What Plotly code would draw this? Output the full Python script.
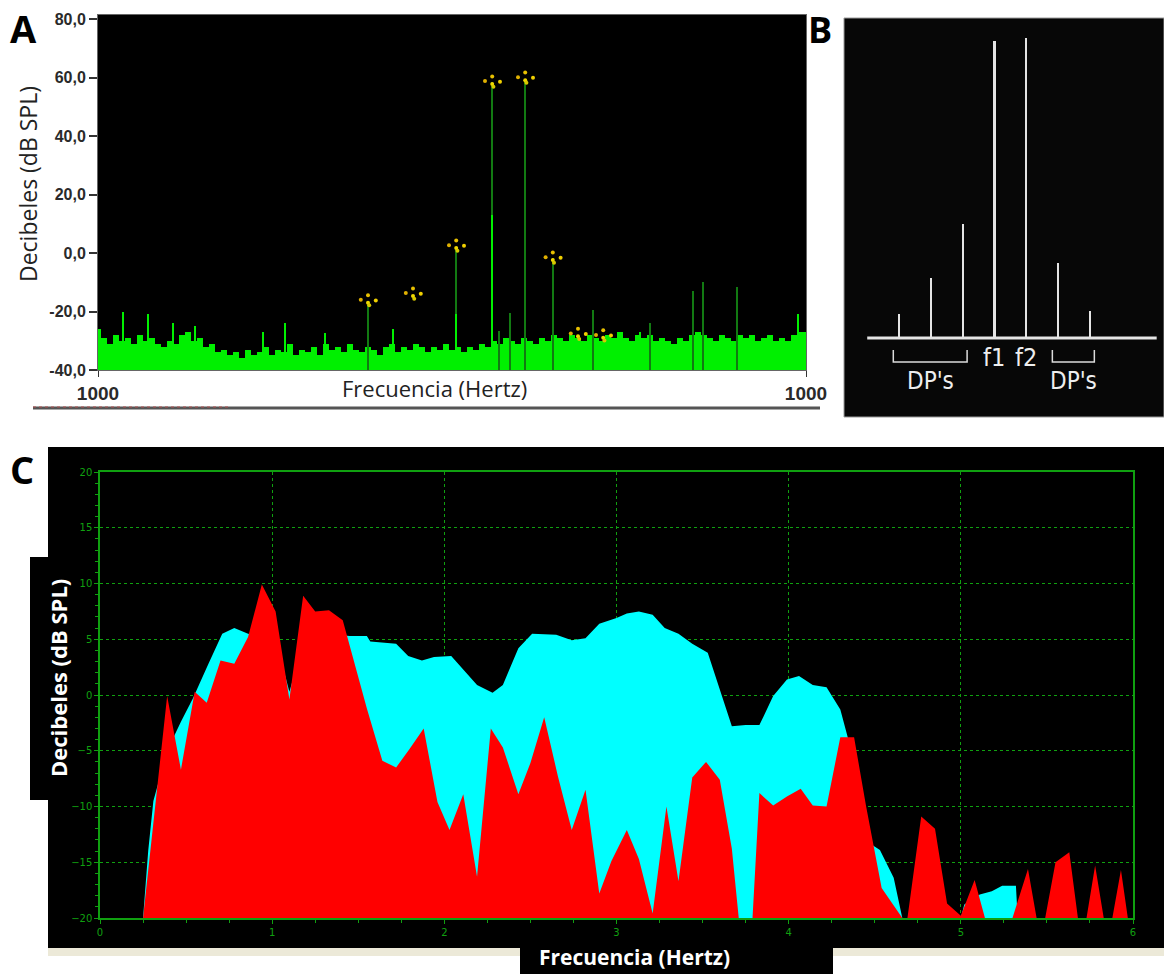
import plotly.graph_objects as go

FIG_W, FIG_H = 1164, 974


def px(x):
    return x / FIG_W


def py(y):
    return 1 - y / FIG_H


# ---------------- Panel A: measured spectrum (bins across the analysis window) ----------------
noise_db = [
    -26, -29, -31, -28, -30, -29, -31, -28, -30, -29,
    -31, -32, -30, -31, -28, -27, -30, -29, -32, -31,
    -34, -33, -35, -34, -36, -33, -35, -34, -32, -35,
    -33, -34, -31, -35, -33, -34, -32, -35, -31, -33,
    -32, -34, -31, -33, -34, -32, -33, -35, -32, -31,
    -34, -32, -33, -31, -32, -34, -32, -33, -31, -33,
    -32, -34, -32, -33, -31, -32, -30, -31, -29, -30,
    -31, -29, -30, -31, -29, -30, -28, -29, -30, -28,
    -29, -30, -28, -29, -30, -28, -29, -27, -29, -30,
    -28, -29, -28, -30, -29, -30, -31, -29, -30, -28,
    -27, -28, -29, -30, -28, -29, -30, -28, -29, -28,
    -30, -29, -28, -30, -29, -30, -28, -27, -27,
]
bright_spike_bins = [4.2, 8.3, 12.5, 16.2, 27.5, 31.2, 37.8, 49.2, 59.7, 65.7, 90.3, 116.7]
bright_spike_db = [-20, -21, -24, -25, -27, -24, -27.5, -26, -21, 13, -27, -21]
dark_spike_bins = [45.0, 59.7, 65.7, 71.2, 75.8, 66.8, 68.7, 82.5, 92.0, 99.2, 100.8, 106.5]
dark_spike_db = [-17, 1.7, 58.5, 59.5, -1.7, -26.5, -20.5, -19.5, -24, -13, -10, -11.6]
dot_bins = [45.0, 52.5, 59.7, 65.7, 71.2, 75.8, 80.0, 84.2]
dot_db = [-17, -14.7, 1.7, 57.8, 59.1, -2.4, -28.5, -29]
a_tick_db = [-40, -20, 0, 20, 40, 60, 80]
a_tick_text = ["-40,0", "-20,0", "0,0", "20,0", "40,0", "60,0", "80,0"]
a_freq_ticks = [0, len(noise_db) - 1]
a_freq_text = ["1000", "1000"]

# ---------------- Panel B: schematic of primaries and distortion products ----------------
b_positions = [1, 2, 3, 4, 5, 6, 7]
b_levels = [8, 20, 38, 99, 100, 25, 9]
b_primary_names = ["f1", "f2"]
b_primary_positions = [4, 5]
b_dp_groups = [(1, 3), (6, 7)]
b_dp_label = "DP's"

# ---------------- Panel C: DP-gram ----------------
cyan_hz = [0.25, 0.28, 0.31, 0.39, 0.47, 0.54, 0.63, 0.71, 0.78, 0.86,
           0.94, 1.02, 1.10, 1.18, 1.25, 1.33, 1.45, 1.55, 1.57, 1.72,
           1.79, 1.87, 1.94, 2.04, 2.19, 2.28, 2.34, 2.43, 2.51, 2.65,
           2.74, 2.82, 2.90, 3.00, 3.06, 3.13, 3.21, 3.28, 3.36, 3.44,
           3.53, 3.67, 3.75, 3.83, 3.91, 3.99, 4.06, 4.14, 4.22, 4.30,
           4.34, 4.38, 4.45, 4.49, 4.53, 4.61, 4.66, 5.00, 5.02, 5.11,
           5.18, 5.24, 5.32, 5.33]
cyan_db = [-20, -14, -9.5, -5.0, -2.4, -0.3, 2.8, 5.5, 6.0, 5.5,
           5.2, 5.0, 0.3, 4.5, 5.5, 5.5, 5.3, 5.3, 4.8, 4.6,
           3.5, 3.1, 3.4, 3.5, 0.9, 0.2, 0.9, 4.2, 5.5, 5.4,
           4.9, 5.1, 6.4, 6.9, 7.3, 7.5, 7.2, 6.0, 5.5, 4.6,
           3.8, -2.8, -2.7, -2.7, -0.1, 1.4, 1.7, 0.9, 0.7, -1.3,
           -3.6, -6.0, -12.0, -13.5, -13.9, -16.4, -20, -20, -18.8, -17.9,
           -17.6, -17.1, -17.1, -20]
red_hz = [0.25, 0.39, 0.47, 0.55, 0.62, 0.70, 0.78, 0.86, 0.94, 1.02,
          1.10, 1.18, 1.25, 1.33, 1.41, 1.55, 1.64, 1.72, 1.80, 1.88,
          1.96, 2.03, 2.11, 2.19, 2.27, 2.34, 2.43, 2.50, 2.58, 2.66,
          2.74, 2.82, 2.90, 2.97, 3.06, 3.13, 3.21, 3.29, 3.36, 3.44,
          3.52, 3.60, 3.67, 3.71, 3.79, 3.83, 3.91, 3.99, 4.07, 4.14,
          4.22, 4.30, 4.38, 4.45, 4.54, 4.66, 4.69, 4.77, 4.85, 4.92,
          5.00, 5.08, 5.14, 5.30, 5.39, 5.44, 5.49, 5.55, 5.63, 5.68,
          5.73, 5.78, 5.83, 5.88, 5.93, 5.97]
red_db = [-20, -0.1, -6.7, 0.3, -0.7, 3.1, 2.8, 5.2, 9.9, 7.5,
          -0.4, 8.9, 7.5, 7.6, 6.7, -1.2, -5.9, -6.5, -4.8, -3.0,
          -9.6, -12.1, -8.9, -16.3, -3.0, -4.7, -8.9, -6.1, -2.0, -7.3,
          -12.1, -8.5, -17.8, -14.9, -12.1, -14.7, -19.6, -10.0, -16.7, -7.4,
          -6.0, -7.6, -13.8, -20, -20, -8.8, -9.9, -9.1, -8.4, -9.9,
          -10.0, -3.8, -3.8, -10.0, -17.3, -20, -20, -10.9, -12.0, -18.7,
          -19.8, -16.6, -20, -20, -15.6, -20, -20, -15.0, -14.1, -20,
          -20, -15.3, -20, -20, -15.7, -20]

A_FLOOR = -40
GREEN = "#00f000"
DARK_GREEN = "#127a12"
C_GREEN = "#10a010"
B_FONT = "Liberation Sans Narrow, DejaVu Sans Condensed, Liberation Sans"

fig = go.Figure()

# ---- Panel A traces ----
fig.add_trace(go.Bar(
    x=list(range(len(noise_db))), y=[d - A_FLOOR for d in noise_db], base=A_FLOOR,
    width=1.0, marker=dict(color=GREEN, line=dict(width=0)),
    xaxis="x", yaxis="y", showlegend=False, hoverinfo="skip"))
fig.add_trace(go.Bar(
    x=dark_spike_bins, y=[d - A_FLOOR for d in dark_spike_db], base=A_FLOOR,
    width=0.35, marker=dict(color=DARK_GREEN, line=dict(width=0)),
    xaxis="x", yaxis="y", showlegend=False))
fig.add_trace(go.Bar(
    x=bright_spike_bins, y=[d - A_FLOOR for d in bright_spike_db], base=A_FLOOR,
    width=0.4, marker=dict(color=GREEN, line=dict(width=0)),
    xaxis="x", yaxis="y", showlegend=False))

# little yellow dot clusters marking detected components
cluster = [(0.0, 0.0, "#f0d800"), (0.0, 2.6, "#e8c000"), (-1.2, 1.0, "#e0b000"),
           (1.3, 0.8, "#f0d000"), (0.2, -0.9, "#d8c800")]
for dx, dy, col in cluster:
    fig.add_trace(go.Scatter(
        x=[b + dx for b in dot_bins], y=[d + dy for d in dot_db], mode="markers",
        marker=dict(size=4, color=col), xaxis="x", yaxis="y", showlegend=False))

# ---- Panel B traces ----
fig.add_trace(go.Bar(
    x=b_positions, y=b_levels, width=0.07,
    marker=dict(color="#e4e4e4", line=dict(width=0)),
    xaxis="x2", yaxis="y2", showlegend=False))
for lo, hi in b_dp_groups:
    fig.add_trace(go.Scatter(
        x=[lo - 0.18, lo - 0.18, hi + 0.14, hi + 0.14], y=[-4, -8, -8, -4],
        mode="lines", line=dict(color="#dcdcdc", width=1.5),
        xaxis="x2", yaxis="y2", showlegend=False))

# ---- Panel C traces ----
fig.add_trace(go.Scatter(
    x=cyan_hz, y=cyan_db, mode="lines", fill="toself", fillcolor="#00ffff",
    line=dict(color="#00ffff", width=0), xaxis="x3", yaxis="y3", showlegend=False))
fig.add_trace(go.Scatter(
    x=red_hz, y=red_db, mode="lines", fill="toself", fillcolor="#ff0000",
    line=dict(color="#ff0000", width=0), xaxis="x3", yaxis="y3", showlegend=False))

# ---- Backgrounds and decorations ----
shapes = [
    dict(type="rect", xref="paper", yref="paper", x0=px(98), x1=px(806), y0=py(370), y1=py(15),
         fillcolor="black", line=dict(width=0), layer="below"),
    dict(type="rect", xref="paper", yref="paper", x0=px(844), x1=px(1164), y0=py(417), y1=py(18),
         fillcolor="#070707", line=dict(color="#9a9a9a", width=1), layer="below"),
    dict(type="rect", xref="paper", yref="paper", x0=px(48), x1=px(1164), y0=py(948), y1=py(447),
         fillcolor="black", line=dict(width=0), layer="below"),
    dict(type="rect", xref="paper", yref="paper", x0=px(30), x1=px(62), y0=py(800), y1=py(557),
         fillcolor="black", line=dict(width=0), layer="below"),
    dict(type="rect", xref="paper", yref="paper", x0=px(520), x1=px(833), y0=py(974), y1=py(940),
         fillcolor="black", line=dict(width=0), layer="below"),
    dict(type="rect", xref="paper", yref="paper", x0=px(48), x1=px(520), y0=py(956), y1=py(948),
         fillcolor="#ece9d8", line=dict(width=0), layer="below"),
    dict(type="rect", xref="paper", yref="paper", x0=px(833), x1=px(1164), y0=py(956), y1=py(948),
         fillcolor="#ece9d8", line=dict(width=0), layer="below"),
    dict(type="line", xref="paper", yref="paper", x0=px(33), x1=px(820), y0=py(408), y1=py(408),
         line=dict(color="#555555", width=3)),
    dict(type="line", xref="paper", yref="paper", x0=px(33), x1=px(230), y0=py(407), y1=py(407),
         line=dict(color="#b05050", width=1, dash="dot")),
    dict(type="line", xref="x2", yref="y2", x0=0, x1=9.1, y0=0, y1=0,
         line=dict(color="#e4e4e4", width=3)),
]


def note(text, x, y, size, color, bold=False, angle=0, family="Open Sans", xref="paper", yref="paper"):
    return dict(text=text, x=x, y=y, xref=xref, yref=yref, showarrow=False,
                xanchor="center", yanchor="middle", textangle=angle,
                font=dict(family=family, size=size, color=color,
                          weight="bold" if bold else "normal"))


annotations = [
    note("A", px(23), py(28), 38, "black", bold=True),
    note("B", px(820), py(30), 36, "black", bold=True),
    note("C", px(22), py(469), 38, "black", bold=True),
    note("Decibeles (dB SPL)", px(28), py(184), 23, "#222", angle=-90),
    note("Frecuencia (Hertz)", px(434), py(388), 22, "#222"),
    note("Decibeles (dB SPL)", px(58), py(678), 22, "white", bold=True, angle=-90),
    note("Frecuencia (Hertz)", px(634), py(957), 21, "white", bold=True),
]
for name, pos in zip(b_primary_names, b_primary_positions):
    annotations.append(note(name, pos, -6.5, 25, "#eeeeee", family=B_FONT,
                            xref="x2", yref="y2"))
for lo, hi in b_dp_groups:
    annotations.append(note(b_dp_label, (lo + hi) / 2, -14.3, 24, "#eeeeee",
                            family=B_FONT, xref="x2", yref="y2"))

a_font = dict(family="Liberation Sans", size=16, color="#2a2a2a", weight="bold")
a_xfont = dict(family="Liberation Sans", size=19, color="#2a2a2a", weight="bold")
c_font = dict(family="DejaVu Sans", size=10, color=C_GREEN)

fig.update_layout(
    width=FIG_W, height=FIG_H,
    margin=dict(l=0, r=0, t=0, b=0, pad=0, autoexpand=False),
    paper_bgcolor="white", plot_bgcolor="rgba(0,0,0,0)",
    barmode="overlay", bargap=0,
    shapes=shapes, annotations=annotations,
    xaxis=dict(domain=[px(98), px(806)], anchor="y", range=[0, len(noise_db) - 1],
               tickvals=a_freq_ticks, ticktext=a_freq_text, ticks="outside", ticklen=6,
               tickcolor="#333", tickfont=a_xfont, showgrid=False, zeroline=False,
               showline=True, linecolor="#666", linewidth=1, mirror=True, automargin=False),
    yaxis=dict(domain=[py(370), py(15)], anchor="x", range=[-40, 81.4],
               tickvals=a_tick_db, ticktext=a_tick_text, ticks="outside", ticklen=8,
               tickwidth=2, tickcolor="#333", tickfont=a_font, showgrid=False,
               zeroline=False, showline=True, linecolor="#666", linewidth=1, mirror=True,
               automargin=False),
    xaxis2=dict(domain=[px(844), 1], anchor="y2", range=[-0.73, 9.33], visible=False,
                automargin=False),
    yaxis2=dict(domain=[py(417), py(18)], anchor="x2", range=[-26.3, 106.7], visible=False,
                automargin=False),
    xaxis3=dict(domain=[px(100), px(1133)], anchor="y3", range=[0, 6], dtick=1, tick0=0,
                ticks="outside", ticklen=4, tickcolor=C_GREEN, tickfont=c_font,
                showgrid=True, gridcolor=C_GREEN, griddash="dot", gridwidth=1,
                zeroline=False, showline=True, linecolor=C_GREEN, linewidth=1.5, mirror=True,
                automargin=False,
                minor=dict(dtick=0.25, ticks="outside", ticklen=3, tickcolor=C_GREEN,
                           showgrid=False)),
    yaxis3=dict(domain=[py(918), py(472)], anchor="x3", range=[-20, 20], dtick=5, tick0=0,
                ticks="outside", ticklen=4, tickcolor=C_GREEN, tickfont=c_font,
                showgrid=True, gridcolor=C_GREEN, griddash="dot", gridwidth=1,
                zeroline=False, showline=True, linecolor=C_GREEN, linewidth=1.5, mirror=True,
                automargin=False,
                minor=dict(dtick=1, ticks="outside", ticklen=3, tickcolor=C_GREEN,
                           showgrid=False)),
)

fig.write_html("out.html")
